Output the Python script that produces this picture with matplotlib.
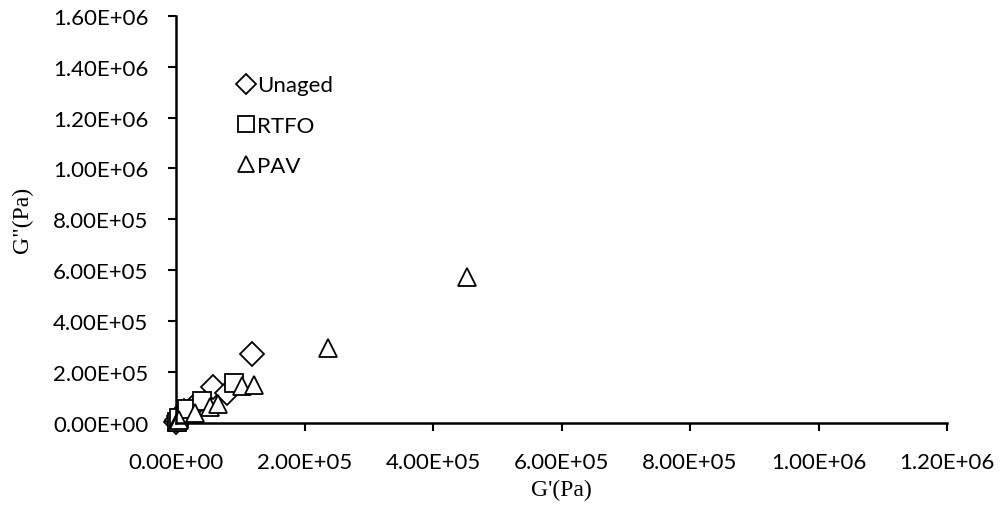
"""Recreate G' vs G'' scatter (Unaged / RTFO / PAV)."""

import matplotlib
matplotlib.use("Agg")
import matplotlib.pyplot as plt
from matplotlib.ticker import FuncFormatter

# data (Pa)
unaged_g1 = [500, 2000, 5000, 12000, 29000, 58000, 79000, 119000]
unaged_g2 = [3000, 10000, 25000, 45000, 70000, 140000, 117000, 272000]

rtfo_g1 = [1000, 4000, 16500, 40000, 91000]
rtfo_g2 = [5000, 20000, 54000, 84000, 156000]

pav_g1 = [1000, 5000, 29000, 53000, 66000, 102000, 122000, 236000, 453000]
pav_g2 = [3000, 10000, 38000, 64000, 74000, 143000, 150000, 294000, 575000]

x_ticks = [0, 2e5, 4e5, 6e5, 8e5, 1e6, 1.2e6]
y_ticks = [0, 2e5, 4e5, 6e5, 8e5, 1e6, 1.2e6, 1.4e6, 1.6e6]


def excel_sci(value, _pos=None):
    """Format like Excel's 0.00E+00."""
    mant, exp = f"{value:.2E}".split("E")
    sign = exp[0]
    return f"{mant}E{sign}{int(exp[1:]):02d}"


fig = plt.figure(figsize=(10, 5.1), dpi=100)
ax = fig.add_axes([0.176, 0.169, 0.771, 0.798])

style = dict(linestyle="none", markerfacecolor="white", markeredgecolor="black",
             markeredgewidth=1.3, clip_on=False)
ax.plot(unaged_g1, unaged_g2, marker="D", markersize=12, label="Unaged", **style)
ax.plot(rtfo_g1, rtfo_g2, marker="s", markersize=13, label="RTFO", **style)
ax.plot(pav_g1, pav_g2, marker="^", markersize=13, label="PAV", **style)

ax.set_xlim(0, 1.2e6)
ax.set_ylim(0, 1.6e6)
ax.set_xticks(x_ticks)
ax.set_yticks(y_ticks)
ax.xaxis.set_major_formatter(FuncFormatter(excel_sci))
ax.yaxis.set_major_formatter(FuncFormatter(excel_sci))

for side in ["top", "right"]:
    ax.spines[side].set_visible(False)
for side in ["left", "bottom"]:
    ax.spines[side].set_linewidth(1.8)
ax.tick_params(axis="both", direction="out", length=6, width=1.5, labelsize=16)
ax.tick_params(axis="x", pad=15)
ax.tick_params(axis="y", pad=14)
for lab in ax.get_xticklabels() + ax.get_yticklabels():
    lab.set_family("Lato")

fig.text(0.5615, 0.039, "G'(Pa)", family="Liberation Serif", fontsize=17,
         ha="center", va="center")
fig.text(0.022, 0.569, 'G"(Pa)', family="Liberation Serif", fontsize=17,
         ha="center", va="center", rotation=90)

leg = ax.legend(loc="upper left", bbox_to_anchor=(0.055, 0.903), frameon=False,
                markerscale=0.85, handlelength=0.7, handletextpad=0.13,
                labelspacing=0.92, prop={"family": "Lato", "size": 16})

fig.savefig("out.png", dpi=100)
plt.close(fig)
